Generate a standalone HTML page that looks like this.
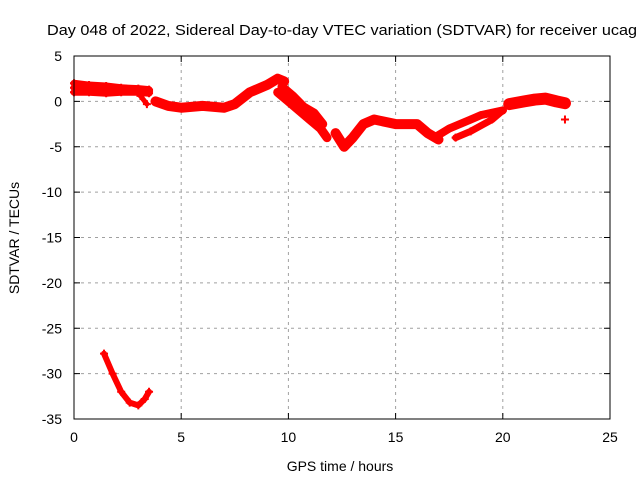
<!DOCTYPE html>
<html><head><meta charset="utf-8"><style>
body{margin:0;background:#fff}
svg{font-family:"Liberation Sans",sans-serif;font-size:14px}
</style></head><body>
<svg id="c" width="640" height="480">
<text x="47" y="35" font-size="15" textLength="590" lengthAdjust="spacingAndGlyphs">Day 048 of 2022, Sidereal Day-to-day VTEC variation (SDTVAR) for receiver ucag</text>
<text x="340" y="471" text-anchor="middle">GPS time / hours</text>
<text transform="translate(19,238) rotate(-90)" text-anchor="middle">SDTVAR / TECUs</text>
<g id="grid"></g><g id="marks"></g>
<rect x="74" y="56" width="536" height="363" fill="none" stroke="#000" stroke-width="1"/>
</svg>
<script>
const xTicks=[0,5,10,15,20,25];
const yTicks=[5,0,-5,-10,-15,-20,-25,-30,-35];
const trackA_h=[0,0.7,1.5,2.2,3.0,3.5];
const trackA_hi=[2.0,1.8,1.7,1.5,1.4,1.3];
const trackA_lo=[1.0,1.0,0.9,1.0,1.0,0.9];
const trackDip_h=[2.8,3.1,3.4];
const trackDip_v=[1.3,0.6,-0.3];
const trackB_h=[3.8,4.4,5.0,6.0,7.0,7.5,8.2,9.0,9.5,9.8];
const trackB_v=[0.0,-0.5,-0.7,-0.5,-0.7,-0.3,1.0,1.8,2.5,2.2];
const trackC_h=[9.5,10.0,10.5,11.0,11.5,11.8];
const trackC_v=[1.0,0.0,-1.0,-2.0,-3.0,-4.0];
const trackC2_h=[9.7,10.2,10.7,11.2,11.6];
const trackC2_v=[1.6,0.6,-0.6,-1.3,-2.5];
const trackD_h=[12.2,12.6,13.0,13.5,14.0,15.0,16.0,16.5,17.0];
const trackD_v=[-3.5,-5.0,-4.0,-2.5,-2.0,-2.5,-2.5,-3.5,-4.2];
const trackE_h=[16.8,17.5,18.5,19.0,20.0];
const trackE_v=[-4.0,-3.0,-2.0,-1.5,-1.0];
const trackE2_h=[17.8,18.5,19.5,20.0];
const trackE2_v=[-4.0,-3.3,-2.0,-1.0];
const trackF_h=[20.3,21.0,21.5,22.0,22.5,22.9];
const trackF_v=[-0.3,0.0,0.2,0.3,0.0,-0.2];
const outlier_h=[22.9];
const outlier_v=[-2.0];
const trackG_h=[1.4,1.8,2.2,2.6,3.0,3.3,3.5];
const trackG_v=[-27.8,-30.0,-32.0,-33.2,-33.5,-32.8,-32.0];

const X=h=>74+h*536/25;
const Y=v=>56+(5-v)*363/40;
const NS='http://www.w3.org/2000/svg';
const grid=document.getElementById('grid'),marks=document.getElementById('marks');
function mk(p,tag,a){const e=document.createElementNS(NS,tag);for(const k in a)e.setAttribute(k,a[k]);p.appendChild(e);return e;}
xTicks.forEach(t=>{const x=X(t);
 if(t>0&&t<25){const l=mk(grid,'line',{x1:x,x2:x,y1:56,y2:419,stroke:'#a0a0a0','stroke-dasharray':'3,4'});
 }
 mk(grid,'line',{x1:x,x2:x,y1:419,y2:413,stroke:'#000'});mk(grid,'line',{x1:x,x2:x,y1:56,y2:62,stroke:'#000'});
 const tx=mk(grid,'text',{x:x,y:442,'text-anchor':'middle'});tx.textContent=t;
 });
yTicks.forEach(t=>{const y=Y(t);
 if(t<5&&t>-35){const l=mk(grid,'line',{x1:74,x2:610,y1:y,y2:y,stroke:'#a0a0a0','stroke-dasharray':'3,4'});
 }
 mk(grid,'line',{x1:74,x2:80,y1:y,y2:y,stroke:'#000'});mk(grid,'line',{x1:610,x2:604,y1:y,y2:y,stroke:'#000'});
 const tx=mk(grid,'text',{x:62,y:y+5,'text-anchor':'end'});tx.textContent=t;
 });
function track(hs,vs,w,name){
 const pts=hs.map((h,i)=>X(h)+','+Y(vs[i])).join(' ');
 const pl=mk(marks,'polyline',{points:pts,fill:'none',stroke:'#f00','stroke-width':w,'stroke-linejoin':'round','stroke-linecap':'round'});
 
 hs.forEach((h,i)=>{const x=X(h),y=Y(vs[i]);
  const p=mk(marks,'path',{d:`M${x-4},${y}H${x+4}M${x},${y-4}V${y+4}`,stroke:'#f00','stroke-width':2});
  });
}
track(trackA_h,trackA_hi,7,'trace-a-upper');
track(trackA_h,trackA_lo,7,'trace-a-lower');
track(trackA_h,trackA_h.map((h,i)=>(trackA_hi[i]+trackA_lo[i])/2),7,'trace-a-mid');
track(trackDip_h,trackDip_v,5,'trace-dip');
track(trackB_h,trackB_v,10,'trace-b');
track(trackC_h,trackC_v,9,'trace-c');
track(trackC2_h,trackC2_v,9,'trace-c2');
track(trackD_h,trackD_v,10,'trace-d');
track(trackE_h,trackE_v,8,'trace-e');
track(trackE2_h,trackE2_v,7,'trace-e2');
track(trackF_h,trackF_v,12,'trace-f');
track(outlier_h,outlier_v,5,'outlier');
track(trackG_h,trackG_v,6,'trace-g');
</script>
</body></html>
